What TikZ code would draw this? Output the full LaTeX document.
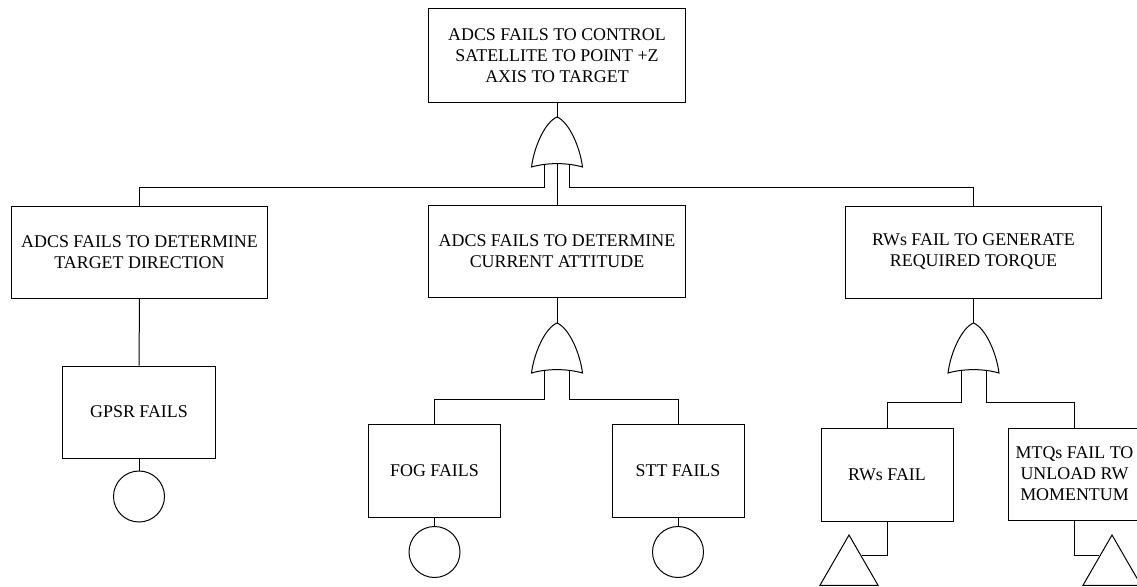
\documentclass[tikz,border=0pt]{standalone}
\usepackage{fontspec}
\setmainfont{Liberation Serif}
\usetikzlibrary{shapes.geometric}
\begin{document}
\begin{tikzpicture}[x=1pt,y=-1pt,
  line width=1pt,
  evbox/.style={draw, rectangle, inner sep=0pt, align=center,
    font=\fontsize{17.9}{21}\selectfont},
  bigbox/.style={evbox, minimum width=256pt, minimum height=92pt},
  smallbox/.style={evbox, minimum width=132pt, minimum height=93pt},
  basicev/.style={draw, circle, inner sep=0pt, minimum size=51pt},
  undevev/.style={draw, regular polygon, regular polygon sides=3,
    inner sep=0pt, minimum size=67pt},
  orgate/.pic={
    \draw (0,0) .. controls (12,5) and (23,30) .. (25.5,50)
          .. controls (10,45.5) and (-10,45.5) .. (-25.5,50)
          .. controls (-23,30) and (-12,5) .. (0,0) -- cycle;
    \coordinate (-apex) at (0,0);
    \coordinate (-l) at (-12.5,47.2);
    \coordinate (-c) at (0,46.6);
    \coordinate (-r) at (12.5,47.2);
  }
]
\useasboundingbox (0,0) rectangle (1137,586);
\clip (0,0) rectangle (1137,586);

% events
\node[bigbox, minimum width=257pt, minimum height=93pt] (top) at (557,55.5)
  {ADCS FAILS TO CONTROL\\SATELLITE TO POINT +Z\\AXIS TO TARGET};
\node[bigbox] (dir) at (139.5,252) {ADCS FAILS TO DETERMINE\\TARGET DIRECTION};
\node[bigbox, minimum width=257pt] (att) at (557,251.5) {ADCS FAILS TO DETERMINE\\CURRENT ATTITUDE};
\node[bigbox] (rwg) at (973.5,252) {RWs FAIL TO GENERATE\\REQUIRED TORQUE};
\node[evbox, minimum width=153pt, minimum height=92pt] (gpsr) at (139,412) {GPSR FAILS};
\node[smallbox] (fog) at (434.5,470.5) {FOG FAILS};
\node[smallbox] (stt) at (678,470.5) {STT FAILS};
\node[smallbox] (rwf) at (887,474.5) {RWs FAIL};
\node[smallbox, minimum height=92pt] (mtq) at (1074.5,474) {MTQs FAIL TO\\UNLOAD RW\\MOMENTUM};

% basic and undeveloped events
\node[basicev] (c1) at (139,496.5) {};
\node[basicev] (c2) at (434.5,552) {};
\node[basicev] (c3) at (678,552) {};
\node[undevev] (t1) at (849,568.5) {};
\node[undevev] (t2) at (1112,568.5) {};

% OR gates
\pic (g1) at (557,117) {orgate};
\pic (g2) at (557,323) {orgate};
\pic (g3) at (973.5,323) {orgate};

% bus levels
\coordinate (bus1) at (0,187);
\coordinate (bus2) at (0,399);
\coordinate (bus3) at (0,402);

% connectors
\draw (top.south) -- (g1-apex);
\draw (g1-l) |- (dir.north |- bus1) -- (dir.north);
\draw (g1-c) -- (att.north);
\draw (g1-r) |- (rwg.north |- bus1) -- (rwg.north);
\draw (dir.south) -- (gpsr.north);
\draw (gpsr.south) -- (c1.north);

\draw (att.south) -- (g2-apex);
\draw (g2-l) |- (fog.north |- bus2) -- (fog.north);
\draw (g2-r) |- (stt.north |- bus2) -- (stt.north);
\draw (fog.south) -- (c2.north);
\draw (stt.south) -- (c3.north);

\draw (rwg.south) -- (g3-apex);
\draw (g3-l) |- (rwf.north |- bus3) -- (rwf.north);
\draw (g3-r) |- (mtq.north |- bus3) -- (mtq.north);
\draw (rwf.south) |- (t1.north east);
\draw (mtq.south) |- (t2.north west);
\end{tikzpicture}
\end{document}
